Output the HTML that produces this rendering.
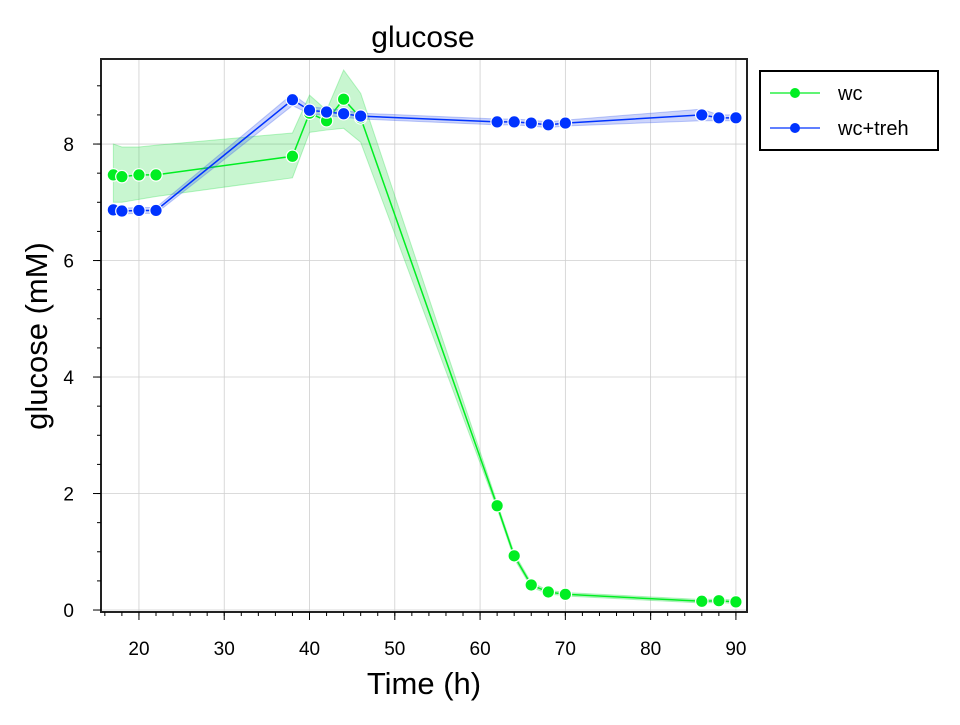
<!DOCTYPE html>
<html><head><meta charset="utf-8"><style>
body{margin:0;background:#fff;}
svg text{font-family:"Liberation Sans",Arial,sans-serif;fill:#000;}
</style></head><body>
<svg id="chart" width="960" height="720" xmlns="http://www.w3.org/2000/svg"></svg>
<script>
const times = [17,18,20,22,38,40,42,44,46,62,64,66,68,70,86,88,90];
const wcValues = [7.47,7.44,7.47,7.47,7.79,8.53,8.40,8.77,8.45,1.79,0.93,0.43,0.31,0.27,0.15,0.16,0.14];
const wcLower = [7.0,7.0,7.05,7.1,7.42,8.2,8.24,8.27,8.03,1.74,0.88,0.39,0.28,0.24,0.12,0.13,0.11];
const wcUpper = [8.0,7.95,7.95,7.98,8.19,8.84,8.58,9.27,8.87,1.84,0.98,0.47,0.34,0.30,0.18,0.19,0.17];
const trehValues = [6.87,6.85,6.86,6.86,8.76,8.58,8.55,8.52,8.48,8.38,8.38,8.36,8.33,8.36,8.50,8.45,8.45];
const trehLower = [6.82,6.80,6.81,6.81,8.66,8.52,8.49,8.46,8.43,8.33,8.33,8.31,8.28,8.31,8.40,8.40,8.40];
const trehUpper = [6.92,6.90,6.91,6.91,8.86,8.64,8.61,8.58,8.53,8.43,8.43,8.41,8.38,8.41,8.60,8.50,8.50];
const xTicks = [20,30,40,50,60,70,80,90];
const yTicks = [0,2,4,6,8];

const L=101,R=747,T=59,B=612;
const X0=15.55,X1=91.3,Y0=-0.034,Y1=9.46;
const xs=v=>L+(v-X0)/(X1-X0)*(R-L);
const ys=v=>B-(v-Y0)/(Y1-Y0)*(B-T);
const svg=document.getElementById('chart');
const NS='http://www.w3.org/2000/svg';
function mk(tag,attrs,parent){const e=document.createElementNS(NS,tag);for(const k in attrs)e.setAttribute(k,attrs[k]);(parent||svg).appendChild(e);return e;}

xTicks.forEach(t=>{const g=mk('line',{x1:xs(t),x2:xs(t),y1:T,y2:B,stroke:'#cfcfcf','stroke-width':0.8});

});
yTicks.forEach(t=>{const g=mk('line',{x1:L,x2:R,y1:ys(t),y2:ys(t),stroke:'#cfcfcf','stroke-width':0.8});

});

function series(vals,lo,hi,color,fill,name){
  const grp=mk('g',{});
  
  
  let d='';times.forEach((t,i)=>{d+=(i?'L':'M')+xs(t)+','+ys(hi[i]);});
  for(let i=times.length-1;i>=0;i--)d+='L'+xs(times[i])+','+ys(lo[i]);
  const band=mk('path',{d:d+'Z',fill:fill,'fill-opacity':0.25,stroke:fill,'stroke-opacity':0.3},grp);
  
  
  const line=mk('polyline',{points:times.map((t,i)=>xs(t)+','+ys(vals[i])).join(' '),fill:'none',stroke:color,'stroke-width':1.5},grp);
  
  
  times.forEach((t,i)=>{const c=mk('circle',{cx:xs(t),cy:ys(vals[i]),r:6.2,fill:color,stroke:'#fff','stroke-width':1.2},grp);
  
  });
}
series(wcValues,wcLower,wcUpper,'#00ee22','#22dd44','wc');
series(trehValues,trehLower,trehUpper,'#0033ff','#3355ee','wc-treh');

const fr=mk('rect',{x:L,y:T,width:R-L,height:B-T,fill:'none',stroke:'#222','stroke-width':2});



for(let v=16;v<=91;v+=2){const m=mk('line',{x1:xs(v),x2:xs(v),y1:B,y2:B+4,stroke:'#000','stroke-width':1});

}
for(let v=0;v<=9.4;v+=0.5){const m=mk('line',{x1:L-4,x2:L,y1:ys(v),y2:ys(v),stroke:'#000','stroke-width':1});

}
xTicks.forEach(t=>{const m=mk('line',{x1:xs(t),x2:xs(t),y1:B,y2:B+8,stroke:'#000','stroke-width':1});


const tx=mk('text',{x:xs(t),y:B+43,'text-anchor':'middle','font-size':19});tx.textContent=t;

});
yTicks.forEach(t=>{const m=mk('line',{x1:L-8,x2:L,y1:ys(t),y2:ys(t),stroke:'#000','stroke-width':1});


const tx=mk('text',{x:L-27,y:ys(t)+7,'text-anchor':'end','font-size':19});tx.textContent=t;

});

const title=mk('text',{x:423,y:47,'text-anchor':'middle','font-size':30});title.textContent='glucose';


const xl=mk('text',{x:424,y:694,'text-anchor':'middle','font-size':31});xl.textContent='Time (h)';


const yl=mk('text',{x:47,y:336,'text-anchor':'middle','font-size':31,transform:'rotate(-90 47 336)'});yl.textContent='glucose (mM)';



const lg=mk('g',{});


mk('rect',{x:760,y:71,width:178,height:79,fill:'#fff',stroke:'#000','stroke-width':2},lg);
[['wc','#00ee22',93],['wc+treh','#0033ff',128]].forEach(([n,c,y])=>{
  const e=mk('g',{},lg);
  
  
  mk('line',{x1:770,x2:820,y1:y,y2:y,stroke:c,'stroke-width':1.2},e);
  mk('circle',{cx:795,cy:y,r:5,fill:c},e);
  const t=mk('text',{x:838,y:y+7,'font-size':20},e);t.textContent=n;
});
</script>
</body></html>
